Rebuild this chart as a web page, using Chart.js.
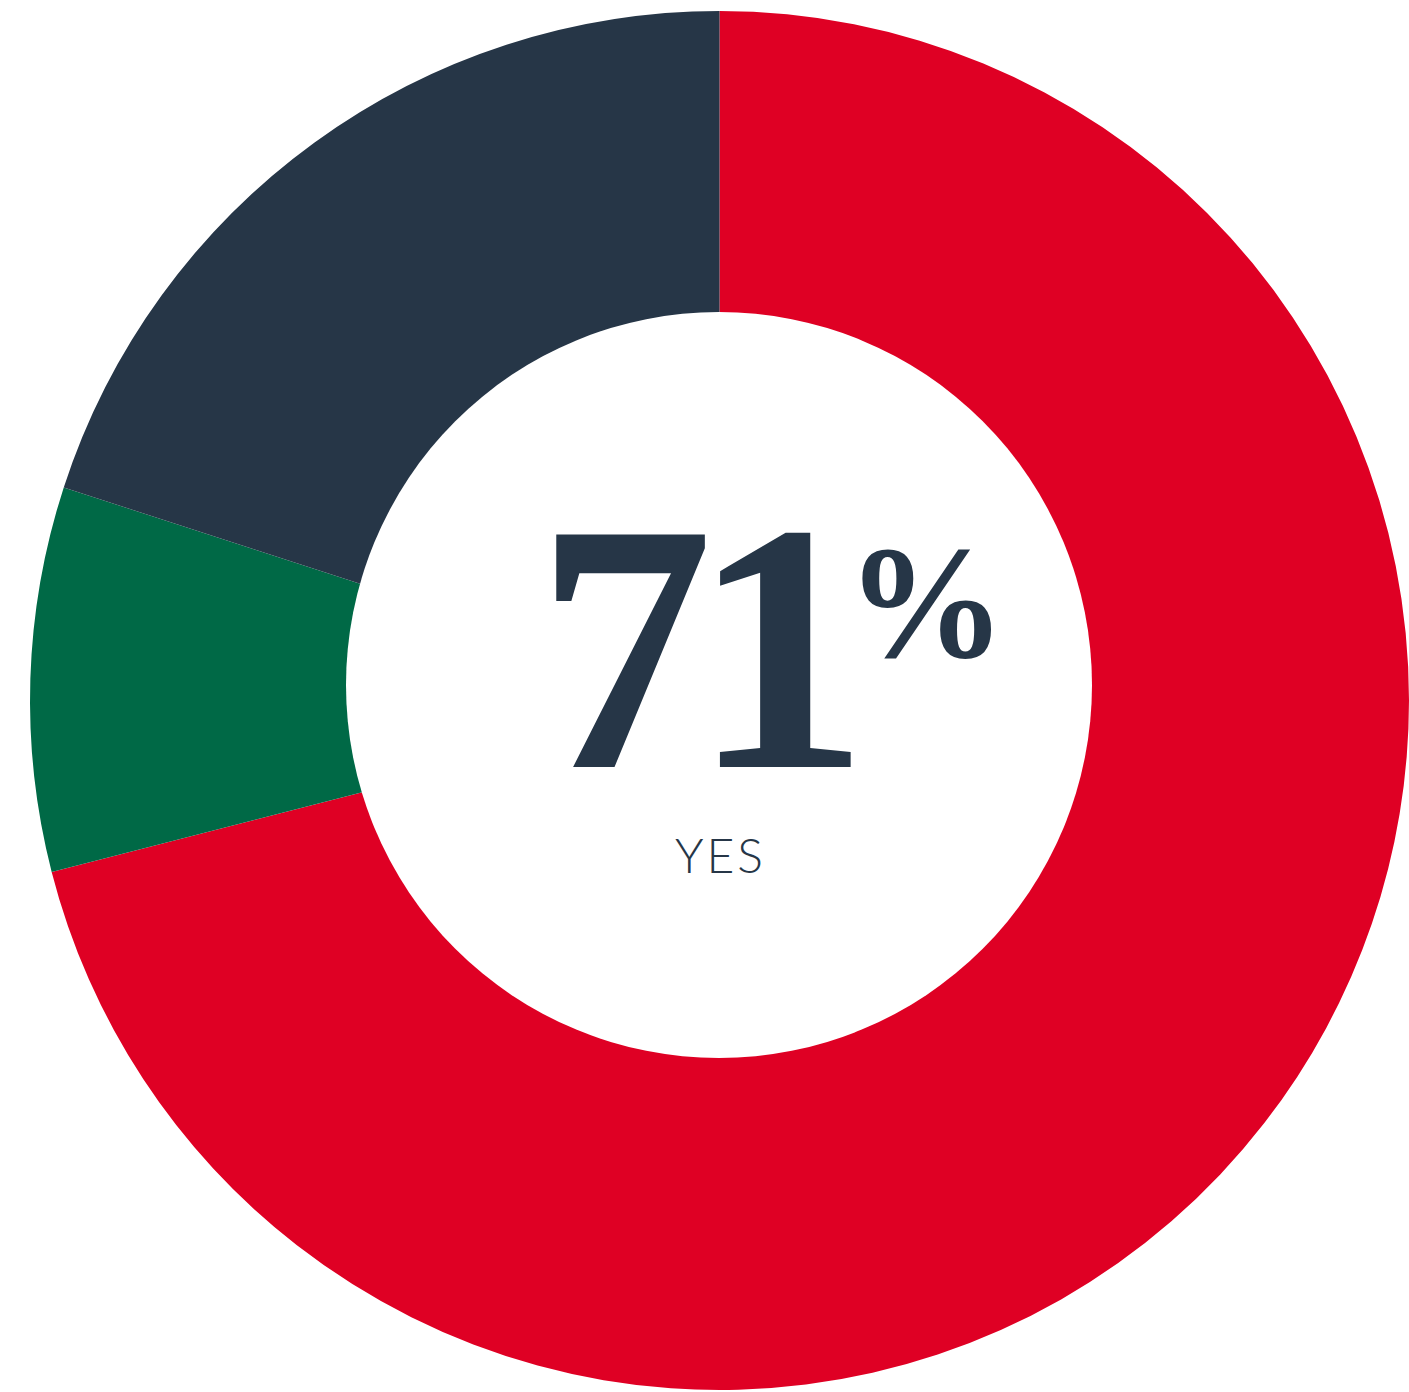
<!DOCTYPE html>
<html>
<head>
<meta charset="utf-8">
<script src="https://cdn.jsdelivr.net/npm/chart.js@4/dist/chart.umd.min.js"></script>
<style>
  html, body { margin: 0; padding: 0; background: #fff; overflow: hidden; }
  #wrap { position: relative; width: 1409px; height: 1392px; }
  #chart { position: absolute; left: 0; top: 0; }
  #hole {
    position: absolute; left: 346px; top: 312px;
    width: 746px; height: 746px; border-radius: 50%; background: #fff;
  }
  #big {
    position: absolute; left: 536px; top: 470px;
    font-family: "Liberation Serif", serif; font-weight: bold;
    font-size: 355px; line-height: 1; letter-spacing: -22px;
    color: #263647; white-space: nowrap;
  }
  #pct {
    position: absolute; left: 846px; top: 523px;
    font-family: "Liberation Serif", serif; font-weight: bold;
    font-size: 160px; line-height: 1; color: #263647;
  }
  #label {
    position: absolute; left: 619px; top: 831px; width: 200px;
    text-align: center; padding-left: 3px; box-sizing: border-box;
    font-family: Lato, sans-serif; font-weight: 300;
    font-size: 48px; line-height: 1; letter-spacing: 3px; color: #263647;
  }
</style>
</head>
<body>
<div id="wrap">
  <canvas id="chart" width="1409" height="1392"></canvas>
  <div id="hole"></div>
  <div id="big"></div>
  <div id="pct">%</div>
  <div id="label"></div>
</div>
<script>
// 三个答案的占比（顺时针，从正上方开始）
const answers = ["Yes", "Don't know", "No"];
const shares = [71, 9, 20];
const sliceColors = ["#df0024", "#006946", "#263647"];

// 中间显示第一项
document.getElementById("big").innerText = shares[0];
document.getElementById("label").innerText = answers[0].toUpperCase();

const ctx = document.getElementById("chart").getContext("2d");
new Chart(ctx, {
  type: "doughnut",
  data: {
    labels: answers,
    datasets: [{
      data: shares,
      backgroundColor: sliceColors,
      borderWidth: 0
    }]
  },
  options: {
    responsive: false,
    animation: false,
    cutout: 0,
    layout: { padding: { left: 30, right: 0, top: 11, bottom: 2 } },
    plugins: { legend: { display: false }, tooltip: { enabled: false } }
  }
});
</script>
</body>
</html>
